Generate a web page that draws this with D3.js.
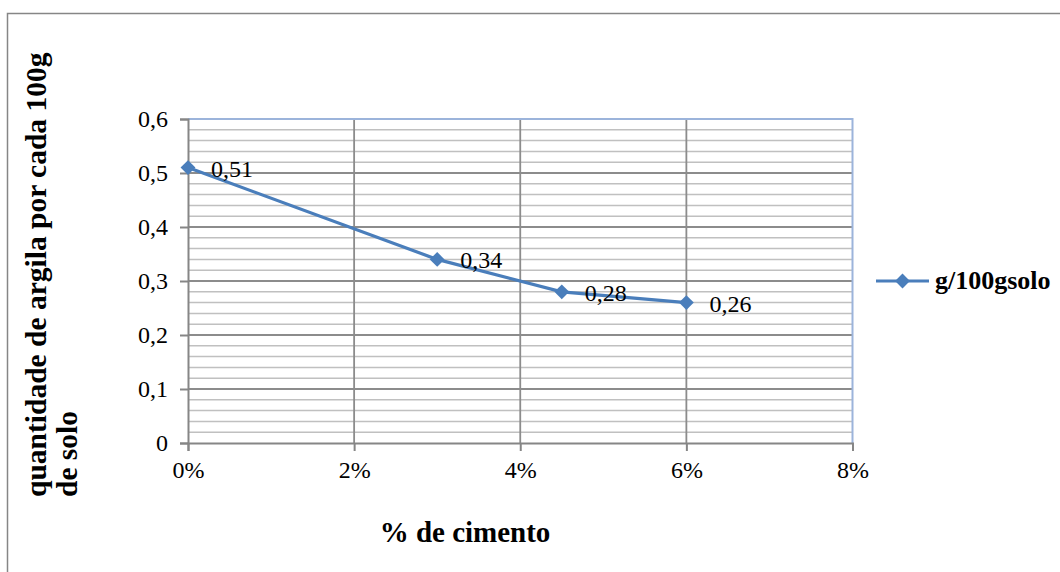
<!DOCTYPE html>
<html>
<head>
<meta charset="utf-8">
<script src="https://cdn.jsdelivr.net/npm/d3@7"></script>
<style>
  html, body { margin: 0; padding: 0; background: #fff; }
  svg { display: block; }
  text { font-family: "Liberation Serif", "Times New Roman", serif; fill: #000; }
</style>
</head>
<body>
<svg id="chart" width="1060" height="572"></svg>
<script>
// Cement content (%) and clay amount per 100 g of soil
const cimento = [0, 3, 4.5, 6];
const argila = [0.51, 0.34, 0.28, 0.26];
const xTicks = [0, 2, 4, 6, 8];
const yTicks = [0, 0.1, 0.2, 0.3, 0.4, 0.5, 0.6];
const serieNome = "g/100gsolo";
const tituloX = "% de cimento";
const tituloY = ["quantidade de argila por cada 100g", "de solo"];

const svg = d3.select("#chart");
const fmt = v => String(v).replace(".", ",");

// Outer chart frame
svg.append("rect")
  .attr("x", 7.5).attr("y", 13.5)
  .attr("width", 1100).attr("height", 600)
  .attr("fill", "#fff").attr("stroke", "#868686").attr("stroke-width", 1.5);

const x = d3.scaleLinear().domain([0, 8]).range([188, 852.5]);
const y = d3.scaleLinear().domain([0, 0.6]).range([443, 119]);

// Minor horizontal gridlines every 0.02
const minor = d3.range(0, 31).map(i => i * 0.02).filter(v => Math.round(v * 50) % 5 !== 0);
svg.append("g").selectAll("line").data(minor).join("line")
  .attr("x1", x(0)).attr("x2", x(8))
  .attr("y1", d => y(d)).attr("y2", d => y(d))
  .attr("stroke", "#c0c0c0").attr("stroke-width", 1.5);

// Major horizontal gridlines
svg.append("g").selectAll("line").data(yTicks.slice(1, -1)).join("line")
  .attr("x1", x(0)).attr("x2", x(8))
  .attr("y1", d => y(d)).attr("y2", d => y(d))
  .attr("stroke", "#8c8c8c").attr("stroke-width", 1.8);

// Vertical gridlines
svg.append("g").selectAll("line").data(xTicks.slice(1, -1)).join("line")
  .attr("x1", d => x(d)).attr("x2", d => x(d))
  .attr("y1", y(0)).attr("y2", y(0.6))
  .attr("stroke", "#8c8c8c").attr("stroke-width", 1.8);

// Plot area border (top and right)
svg.append("path")
  .attr("d", `M${x(0)},${y(0.6)}H${x(8)}V${y(0)}`)
  .attr("fill", "none").attr("stroke", "#9cb4db").attr("stroke-width", 2);

// Y axis
const yAxis = d3.axisLeft(y).tickValues(yTicks).tickSize(8).tickPadding(12)
  .tickFormat(d => d === 0 ? "0" : fmt(d3.format(".1f")(d)));
const gy = svg.append("g").attr("transform", `translate(${x(0)},0)`).call(yAxis);
gy.select(".domain").attr("stroke", "#868686").attr("stroke-width", 2);
gy.selectAll(".tick line").attr("stroke", "#868686").attr("stroke-width", 2);
gy.selectAll(".tick text").attr("font-size", 24).attr("font-family", "Liberation Serif").attr("fill", "#000");

// X axis
const xAxis = d3.axisBottom(x).tickValues(xTicks).tickSize(8).tickPadding(10)
  .tickFormat(d => d + "%");
const gx = svg.append("g").attr("transform", `translate(0,${y(0)})`).call(xAxis);
gx.select(".domain").attr("stroke", "#868686").attr("stroke-width", 2);
gx.selectAll(".tick line").attr("stroke", "#868686").attr("stroke-width", 2);
gx.selectAll(".tick text").attr("font-size", 24).attr("font-family", "Liberation Serif").attr("fill", "#000");

// Series line
const cor = "#4a7ebb";
const pts = cimento.map((c, i) => [c, argila[i]]);
svg.append("path")
  .attr("d", d3.line().x(d => x(d[0])).y(d => y(d[1]))(pts))
  .attr("fill", "none").attr("stroke", cor).attr("stroke-width", 3.2);

const diamond = d3.symbol().type(d3.symbolDiamond2).size(140);
svg.append("g").selectAll("path").data(pts).join("path")
  .attr("d", diamond)
  .attr("transform", d => `translate(${x(d[0])},${y(d[1])})`)
  .attr("fill", cor);

// Data labels
svg.append("g").selectAll("text").data(pts).join("text")
  .attr("x", d => x(d[0]) + 23)
  .attr("y", d => y(d[1]) + 9)
  .attr("font-size", 24)
  .text(d => fmt(d[1]));

// Axis titles
svg.append("text")
  .attr("x", 465).attr("y", 542)
  .attr("text-anchor", "middle")
  .attr("font-size", 29).attr("font-weight", "bold")
  .text(tituloX);

const ty = svg.append("text")
  .attr("transform", "translate(46,497) rotate(-90)")
  .attr("font-size", 29.5).attr("font-weight", "bold");
ty.selectAll("tspan").data(tituloY).join("tspan")
  .attr("x", 0).attr("y", (d, i) => i * 31)
  .text(d => d);

// Legend
const lg = svg.append("g").attr("transform", "translate(876,281)");
lg.append("line").attr("x1", 0).attr("x2", 53).attr("stroke", cor).attr("stroke-width", 3.2);
lg.append("path").attr("d", diamond).attr("transform", "translate(26.5,0)").attr("fill", cor);
lg.append("text").attr("x", 59).attr("y", 8)
  .attr("font-size", 26).attr("font-weight", "bold")
  .text(serieNome);
</script>
</body>
</html>
